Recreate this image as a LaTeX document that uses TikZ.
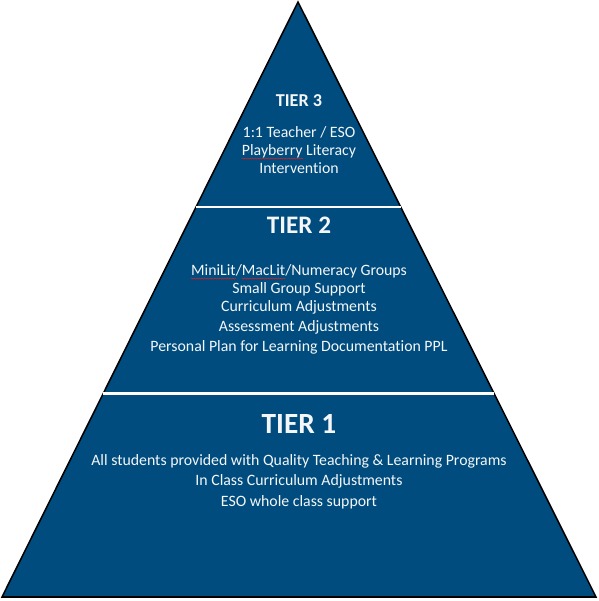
\documentclass[tikz,border=0pt]{standalone}
\usepackage{fontspec}
\setmainfont{Carlito}[Ligatures=NoCommon]
\usetikzlibrary{calc,decorations.pathmorphing}
\usepackage{xcolor}
\definecolor{TierBlue} {HTML}{004C7E}
\definecolor{TierText} {HTML}{F4F6F8}
\definecolor{SpellRed} {HTML}{E0201C}
\tikzset{
  pyr/.style={fill=TierBlue,draw=black,line width=1.3pt,line join=miter},
  divider/.style={draw=white,line width=1.8pt},
  tiertitle/.style={anchor=base,inner sep=0pt,text=TierText,
                    font=\fontsize{#1}{#1}\selectfont\bfseries},
  tierline/.style={anchor=base,inner sep=0pt,text=TierText,
                   font=\fontsize{13.5}{15}\selectfont},
  squiggle/.style={draw=SpellRed,line width=0.4pt,decorate,
                   decoration={snake,amplitude=0.5pt,segment length=2.2pt}},
}
% red spell-check wave under a word
\newcommand\spellwave[1]{\tikz[baseline=(sw.base),x=1cm,y=1cm]{%
  \node[inner sep=0pt,anchor=base] (sw) at (0,0) {#1};
  \draw[squiggle,overlay] ([yshift=-2.2pt]sw.base west) -- ([yshift=-2.2pt]sw.base east);}}

\begin{document}
\begin{tikzpicture}[x=0.03cm,y=0.03cm]
  \useasboundingbox (0,0) rectangle (598,601);

  \coordinate (apex) at (298,599);
  \coordinate (bl)   at (2,4);
  \coordinate (br)   at (596,4);

  % pyramid body
  \draw[pyr] (apex) -- (br) -- (bl) -- cycle;

  % tier borders
  \draw[divider] ($(apex)!0.345!(bl)$) -- ($(apex)!0.345!(br)$);
  \draw[divider] ($(apex)!0.658!(bl)$) -- ($(apex)!0.658!(br)$);

  % tier 3
  \node[tiertitle=15.5] (t3) at (299,494) {TIER 3};
  \node[tierline] (t3a) at (299,463.3) {1:1 Teacher / ESO};
  \node[tierline] (t3b) at (299,445) {\spellwave{Playberry} Literacy};
  \node[tierline] (t3c) at (299,427.7) {Intervention};

  % tier 2
  \node[tiertitle=21.5] (t2) at (299,367) {TIER 2};
  \node[tierline] (t2a) at (299,325) {\spellwave{MiniLit}/\spellwave{MacLit}/Numeracy Groups};
  \node[tierline] (t2b) at (299,307.7) {Small Group Support};
  \node[tierline] (t2c) at (299,289.3) {Curriculum Adjustments};
  \node[tierline] (t2d) at (299,269.3) {Assessment Adjustments};
  \node[tierline] (t2e) at (299,249.3) {Personal Plan for Learning Documentation PPL};

  % tier 1
  \node[tiertitle=25] (t1) at (299,167) {TIER 1};
  \node[tierline] (t1a) at (299,135) {All students provided with Quality Teaching \& Learning Programs};
  \node[tierline] (t1b) at (299,115) {In Class Curriculum Adjustments};
  \node[tierline] (t1c) at (299,94.3) {ESO whole class support};

\end{tikzpicture}
\end{document}
